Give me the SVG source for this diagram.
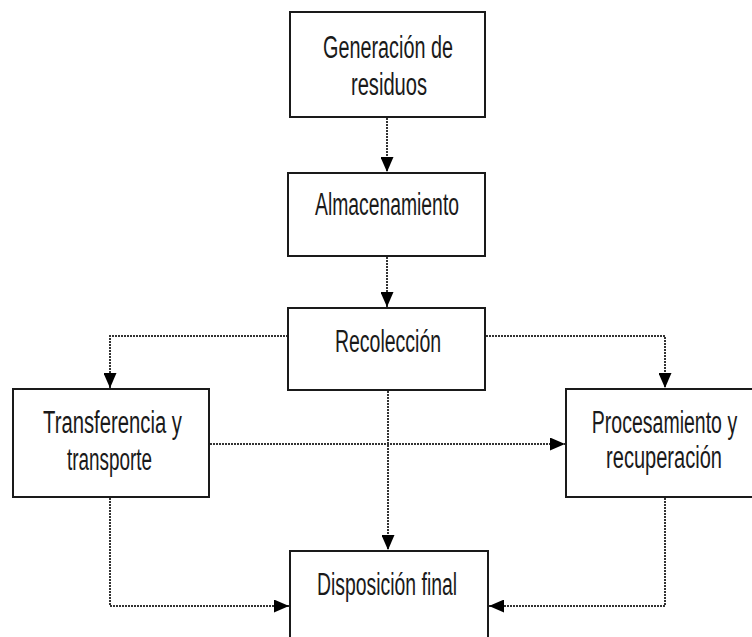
<svg xmlns="http://www.w3.org/2000/svg" width="752" height="637" viewBox="0 0 752 637">
<defs>
<style>
.box{fill:#fff;stroke:#1a1a1a;stroke-width:2}
.lbl{font-family:"Liberation Sans",Arial,sans-serif;font-size:31px;fill:#1a1a1a;text-anchor:middle}
.con{fill:none;stroke:#333;stroke-width:2;stroke-dasharray:2,1}
</style>
<marker id="arr" markerUnits="userSpaceOnUse" markerWidth="15" markerHeight="13" refX="15" refY="6.5" orient="auto">
<path d="M0,0 L15,6.5 L0,13 z" fill="#000"/>
</marker>
</defs>
<rect width="752" height="637" fill="#fff"/>
<g id="connectors">
<path class="con" d="M387,118 V172" marker-end="url(#arr)"/>
<path class="con" d="M387,257 V307" marker-end="url(#arr)"/>
<path class="con" d="M288,336 H110 V388" marker-end="url(#arr)"/>
<path class="con" d="M486,336 H665 V388" marker-end="url(#arr)"/>
<path class="con" d="M210,444 H565" marker-end="url(#arr)"/>
<path class="con" d="M388,391 V550" marker-end="url(#arr)"/>
<path class="con" d="M110,498 V606 H289" marker-end="url(#arr)"/>
<path class="con" d="M665,498 V606 H489" marker-end="url(#arr)"/>
</g>
<g id="generacion">
<rect class="box" x="290" y="12" width="195" height="105"/>
<text class="lbl" transform="translate(388,58) scale(0.64,1)" textLength="203" lengthAdjust="spacingAndGlyphs">Generación de</text>
<text class="lbl" transform="translate(389,95) scale(0.64,1)" textLength="119" lengthAdjust="spacingAndGlyphs">residuos</text>
</g>
<g id="almacenamiento">
<rect class="box" x="288" y="173" width="197" height="83"/>
<text class="lbl" transform="translate(387,215) scale(0.64,1)" textLength="225" lengthAdjust="spacingAndGlyphs">Almacenamiento</text>
</g>
<g id="recoleccion">
<rect class="box" x="288" y="308" width="197" height="82"/>
<text class="lbl" transform="translate(388,352) scale(0.64,1)" textLength="166" lengthAdjust="spacingAndGlyphs">Recolección</text>
</g>
<g id="transferencia">
<rect class="box" x="13" y="389" width="196" height="108"/>
<text class="lbl" transform="translate(112.5,433) scale(0.64,1)" textLength="217" lengthAdjust="spacingAndGlyphs">Transferencia y</text>
<text class="lbl" transform="translate(109.5,470) scale(0.64,1)" textLength="133" lengthAdjust="spacingAndGlyphs">transporte</text>
</g>
<g id="procesamiento">
<rect class="box" x="566" y="389" width="198" height="108"/>
<text class="lbl" transform="translate(664.5,433) scale(0.64,1)" textLength="227" lengthAdjust="spacingAndGlyphs">Procesamiento y</text>
<text class="lbl" transform="translate(664,468) scale(0.64,1)" textLength="181" lengthAdjust="spacingAndGlyphs">recuperación</text>
</g>
<g id="disposicion">
<rect class="box" x="290" y="551" width="198" height="95"/>
<text class="lbl" transform="translate(387,595) scale(0.64,1)" textLength="219" lengthAdjust="spacingAndGlyphs">Disposición final</text>
</g>
</svg>
